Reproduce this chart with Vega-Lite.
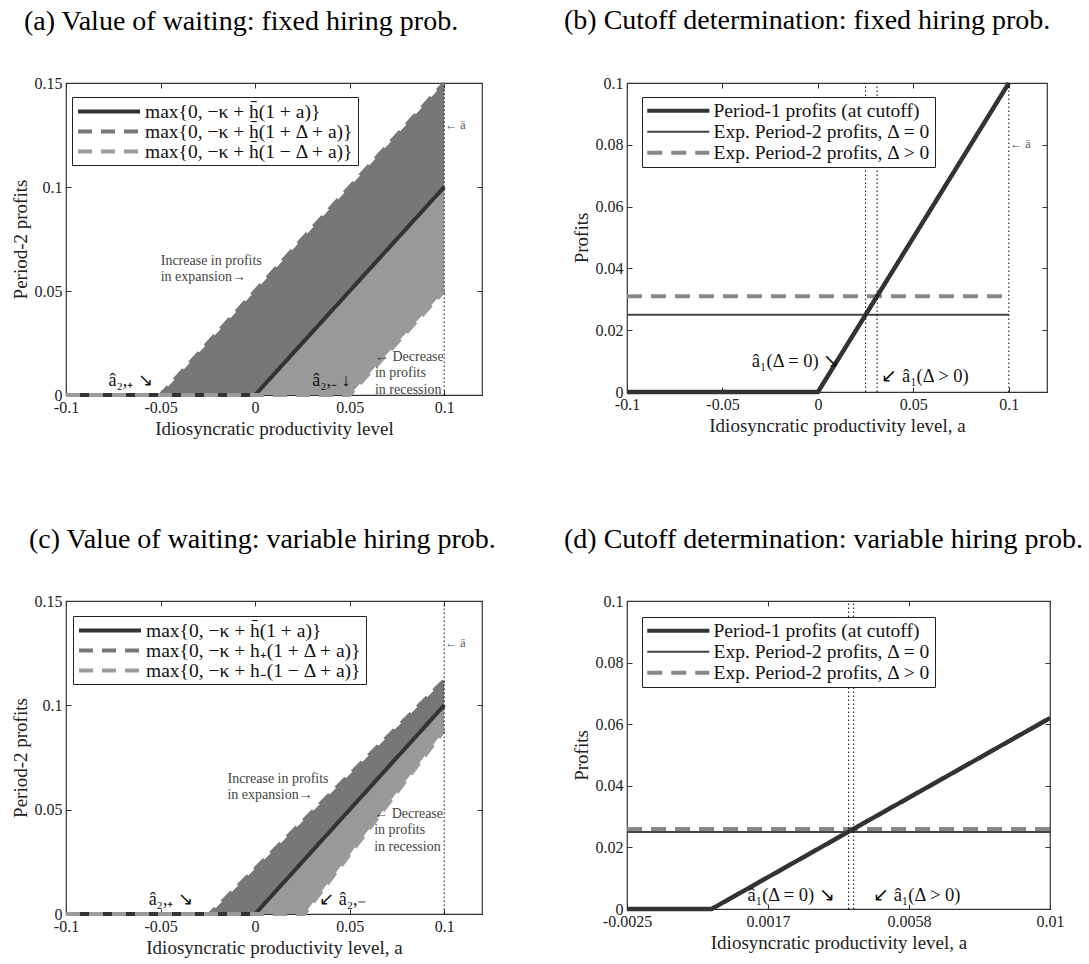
{
  "$schema": "https://vega.github.io/schema/vega-lite/v6.json",
  "background": "white",
  "padding": {"left": 10, "right": 5, "top": 6, "bottom": 5},
  "config": {
    "font": "Liberation Serif",
    "view": {"stroke": "#333333", "strokeWidth": 1.2},
    "axis": {"domain": false, "grid": false, "tickSize": -5, "tickColor": "#333333", "labelFont": "Liberation Serif", "labelFontSize": 16, "labelColor": "#222222", "labelPadding": 9, "labelFlush": false, "labelOverlap": false, "titleFont": "Liberation Serif", "titleFontSize": 19, "titleFontWeight": "normal", "titleColor": "#222222"},
    "legend": {"symbolType": "M-1,0H6.3", "symbolSize": 289, "symbolStrokeWidth": 4, "labelFont": "Liberation Serif", "labelFontSize": 19.5, "labelColor": "#111111", "labelLimit": 500, "strokeColor": "#222222", "fillColor": "white", "padding": 4, "rowPadding": 0, "labelOffset": 48},
    "title": {"font": "Liberation Serif", "fontSize": 28, "fontWeight": "normal", "color": "black", "anchor": "start", "frame": "group", "offset": 39}
  },
  "resolve": {"scale": {"color": "independent", "strokeDash": "independent"}},
  "spacing": 86,
  "vconcat": [
    {
      "spacing": 145,
      "bounds": "flush",
      "resolve": {"scale": {"color": "independent", "strokeDash": "independent"}},
      "hconcat": [
        {
          "width": 416, "height": 312,
          "title": {"text": "(a) Value of waiting: fixed hiring prob.", "dx": -42},
          "encoding": {
            "x": {"field": "a", "type": "quantitative", "scale": {"domain": [-0.1, 0.12], "nice": false, "zero": false}, "axis": {"values": [-0.1, -0.05, 0, 0.05, 0.1], "labelExpr": "'' + datum.value", "title": "Idiosyncratic productivity level"}},
            "y": {"field": "v", "type": "quantitative", "scale": {"domain": [0, 0.15], "nice": false}, "axis": {"values": [0, 0.05, 0.1, 0.15], "labelExpr": "'' + datum.value", "title": "Period-2 profits"}}
          },
          "resolve": {"axis": {"x": "independent", "y": "independent"}},
          "layer": [
            {
              "layer": [
                {"data": {"values": [{"a": -0.05, "v": 0, "v2": 0}, {"a": 0, "v": 0.05, "v2": 0}, {"a": 0.1, "v": 0.15, "v2": 0.1}]}, "mark": {"type": "area", "color": "#777777", "opacity": 1}, "encoding": {"y2": {"field": "v2"}}},
                {"data": {"values": [{"a": 0, "v": 0, "v2": 0}, {"a": 0.05, "v": 0.05, "v2": 0}, {"a": 0.1, "v": 0.1, "v2": 0.05}]}, "mark": {"type": "area", "color": "#999999", "opacity": 1}, "encoding": {"y2": {"field": "v2"}}},
                {
                  "encoding": {
                    "color": {"field": "s", "type": "nominal", "scale": {"domain": ["max{0, −κ + h̄(1 + a)}", "max{0, −κ + h̄(1 + Δ + a)}", "max{0, −κ + h̄(1 − Δ + a)}"], "range": ["#333333", "#777777", "#9b9b9b"]}, "legend": {"title": null, "orient": "none", "legendX": 6, "legendY": 14}},
                    "strokeDash": {"field": "s", "type": "nominal", "scale": {"domain": ["max{0, −κ + h̄(1 + a)}", "max{0, −κ + h̄(1 + Δ + a)}", "max{0, −κ + h̄(1 − Δ + a)}"], "range": [[1, 0], [14, 9], [14, 9]]}, "legend": {"title": null, "orient": "none", "legendX": 6, "legendY": 14}}
                  },
                  "layer": [
                    {"data": {"values": [{"s": "max{0, −κ + h̄(1 + a)}", "a": -0.1, "v": 0}, {"s": "max{0, −κ + h̄(1 + a)}", "a": 0, "v": 0}, {"s": "max{0, −κ + h̄(1 + a)}", "a": 0.1, "v": 0.1}]}, "mark": {"type": "line", "strokeWidth": 4}},
                    {"data": {"values": [{"s": "max{0, −κ + h̄(1 + Δ + a)}", "a": -0.1, "v": 0}, {"s": "max{0, −κ + h̄(1 + Δ + a)}", "a": -0.05, "v": 0}, {"s": "max{0, −κ + h̄(1 + Δ + a)}", "a": 0.1, "v": 0.15}]}, "mark": {"type": "line", "strokeWidth": 4}},
                    {"data": {"values": [{"s": "max{0, −κ + h̄(1 − Δ + a)}", "a": -0.1, "v": 0}, {"s": "max{0, −κ + h̄(1 − Δ + a)}", "a": 0.05, "v": 0}, {"s": "max{0, −κ + h̄(1 − Δ + a)}", "a": 0.1, "v": 0.05}]}, "mark": {"type": "line", "strokeWidth": 4}}
                  ]
                },
                {"data": {"values": [{"a": -0.0499, "v": 0.068, "t": "Increase in profits\nin expansion→"}, {"a": 0.0634, "v": 0.0218, "t": "← Decrease\nin profits\nin recession"}]}, "mark": {"type": "text", "align": "left", "baseline": "top", "fontSize": 14, "color": "#444444", "lineBreak": "\n", "lineHeight": 16.5}, "encoding": {"text": {"field": "t"}}},
                {"data": {"values": [{"a": 0.1005, "v": 0.130, "t": "← ā"}]}, "mark": {"type": "text", "align": "left", "baseline": "middle", "fontSize": 12, "color": "#555555"}, "encoding": {"text": {"field": "t"}}},
                {"data": {"values": [{"a": -0.0775, "v": 0.0069, "t": "â₂,₊   ↘"}, {"a": 0.0302, "v": 0.0069, "t": "â₂,₋  ↓"}]}, "mark": {"type": "text", "align": "left", "baseline": "middle", "fontSize": 18, "color": "#111111"}, "encoding": {"text": {"field": "t"}}}
              ]
            },
            {"data": {"values": [{"a": 0.1, "v": 0, "v2": 0.15}]}, "mark": {"type": "rule", "color": "black", "strokeWidth": 1, "strokeDash": [1.5, 2.5]},
             "encoding": {
               "x": {"field": "a", "type": "quantitative", "scale": {"domain": [-0.1, 0.12], "nice": false, "zero": false}, "axis": {"orient": "top", "values": [-0.1, -0.05, 0, 0.05, 0.1], "labels": false, "title": null}},
               "y": {"field": "v", "type": "quantitative", "scale": {"domain": [0, 0.15], "nice": false}, "axis": {"orient": "right", "values": [0, 0.05, 0.1, 0.15], "labels": false, "title": null}},
               "y2": {"field": "v2"}}}
          ]
        },
        {
          "width": 420, "height": 309,
          "title": {"text": "(b) Cutoff determination: fixed hiring prob.", "dx": -63},
          "encoding": {
            "x": {"field": "a", "type": "quantitative", "scale": {"domain": [-0.1, 0.12], "nice": false, "zero": false}, "axis": {"values": [-0.1, -0.05, 0, 0.05, 0.1], "labelExpr": "'' + datum.value", "title": "Idiosyncratic productivity level, a"}},
            "y": {"field": "v", "type": "quantitative", "scale": {"domain": [0, 0.1], "nice": false}, "axis": {"values": [0, 0.02, 0.04, 0.06, 0.08, 0.1], "labelExpr": "'' + datum.value", "title": "Profits"}}
          },
          "resolve": {"axis": {"x": "independent", "y": "independent"}},
          "layer": [
            {
              "layer": [
                {
                  "encoding": {
                    "color": {"field": "s", "type": "nominal", "scale": {"domain": ["Period-1 profits (at cutoff)", "Exp. Period-2 profits, Δ = 0", "Exp. Period-2 profits, Δ > 0"], "range": ["#333333", "#444444", "#888888"]}, "legend": {"title": null, "orient": "none", "legendX": 15, "legendY": 14, "encode": {"symbols": {"update": {"strokeWidth": {"signal": "datum.value === 'Exp. Period-2 profits, Δ = 0' ? 2 : 4"}}}}}},
                    "strokeDash": {"field": "s", "type": "nominal", "scale": {"domain": ["Period-1 profits (at cutoff)", "Exp. Period-2 profits, Δ = 0", "Exp. Period-2 profits, Δ > 0"], "range": [[1, 0], [1, 0], [15, 9]]}, "legend": {"title": null, "orient": "none", "legendX": 15, "legendY": 14, "encode": {"symbols": {"update": {"strokeWidth": {"signal": "datum.value === 'Exp. Period-2 profits, Δ = 0' ? 2 : 4"}}}}}}
                  },
                  "layer": [
                    {"data": {"values": [{"s": "Exp. Period-2 profits, Δ > 0", "a": -0.1, "v": 0.031}, {"s": "Exp. Period-2 profits, Δ > 0", "a": 0.1, "v": 0.031}]}, "mark": {"type": "line", "strokeWidth": 4}},
                    {"data": {"values": [{"s": "Exp. Period-2 profits, Δ = 0", "a": -0.1, "v": 0.025}, {"s": "Exp. Period-2 profits, Δ = 0", "a": 0.1, "v": 0.025}]}, "mark": {"type": "line", "strokeWidth": 2}},
                    {"data": {"values": [{"s": "Period-1 profits (at cutoff)", "a": -0.1, "v": 0}, {"s": "Period-1 profits (at cutoff)", "a": 0, "v": 0}, {"s": "Period-1 profits (at cutoff)", "a": 0.1, "v": 0.1}]}, "mark": {"type": "line", "strokeWidth": 4.5}}
                  ]
                },
                {"data": {"values": [{"a": 0.1007, "v": 0.0803, "t": "← ā"}]}, "mark": {"type": "text", "align": "left", "baseline": "middle", "fontSize": 12, "color": "#555555"}, "encoding": {"text": {"field": "t"}}},
                {"data": {"values": [{"a": -0.0346, "v": 0.0100, "t": "â₁(Δ = 0)  ↘"}, {"a": 0.0332, "v": 0.0052, "t": "↙  â₁(Δ > 0)"}]}, "mark": {"type": "text", "align": "left", "baseline": "middle", "fontSize": 18.5, "color": "#111111"}, "encoding": {"text": {"field": "t"}}}
              ]
            },
            {"data": {"values": [{"a": 0.025, "v": 0, "v2": 0.1}, {"a": 0.031, "v": 0, "v2": 0.1}, {"a": 0.1, "v": 0, "v2": 0.1}]}, "mark": {"type": "rule", "color": "black", "strokeWidth": 1, "strokeDash": [1.5, 2.5]},
             "encoding": {
               "x": {"field": "a", "type": "quantitative", "scale": {"domain": [-0.1, 0.12], "nice": false, "zero": false}, "axis": {"orient": "top", "values": [-0.1, -0.05, 0, 0.05, 0.1], "labels": false, "title": null}},
               "y": {"field": "v", "type": "quantitative", "scale": {"domain": [0, 0.1], "nice": false}, "axis": {"orient": "right", "values": [0, 0.02, 0.04, 0.06, 0.08, 0.1], "labels": false, "title": null}},
               "y2": {"field": "v2"}}}
          ]
        }
      ]
    },
    {
      "spacing": 145,
      "bounds": "flush",
      "resolve": {"scale": {"color": "independent", "strokeDash": "independent"}},
      "hconcat": [
        {
          "width": 416, "height": 313,
          "title": {"text": "(c) Value of waiting: variable hiring prob.", "dx": -37},
          "encoding": {
            "x": {"field": "a", "type": "quantitative", "scale": {"domain": [-0.1, 0.12], "nice": false, "zero": false}, "axis": {"values": [-0.1, -0.05, 0, 0.05, 0.1], "labelExpr": "'' + datum.value", "title": "Idiosyncratic productivity level, a"}},
            "y": {"field": "v", "type": "quantitative", "scale": {"domain": [0, 0.15], "nice": false}, "axis": {"values": [0, 0.05, 0.1, 0.15], "labelExpr": "'' + datum.value", "title": "Period-2 profits"}}
          },
          "resolve": {"axis": {"x": "independent", "y": "independent"}},
          "layer": [
            {
              "layer": [
                {"data": {"values": [{"a": -0.024, "v": 0, "v2": 0}, {"a": 0, "v": 0.0217, "v2": 0}, {"a": 0.1, "v": 0.112, "v2": 0.1}]}, "mark": {"type": "area", "color": "#777777", "opacity": 1}, "encoding": {"y2": {"field": "v2"}}},
                {"data": {"values": [{"a": 0, "v": 0, "v2": 0}, {"a": 0.026, "v": 0.026, "v2": 0}, {"a": 0.1, "v": 0.1, "v2": 0.088}]}, "mark": {"type": "area", "color": "#999999", "opacity": 1}, "encoding": {"y2": {"field": "v2"}}},
                {
                  "encoding": {
                    "color": {"field": "s", "type": "nominal", "scale": {"domain": ["max{0, −κ + h̄(1 + a)}", "max{0, −κ + h₊(1 + Δ + a)}", "max{0, −κ + h₋(1 − Δ + a)}"], "range": ["#333333", "#777777", "#9b9b9b"]}, "legend": {"title": null, "orient": "none", "legendX": 7, "legendY": 15}},
                    "strokeDash": {"field": "s", "type": "nominal", "scale": {"domain": ["max{0, −κ + h̄(1 + a)}", "max{0, −κ + h₊(1 + Δ + a)}", "max{0, −κ + h₋(1 − Δ + a)}"], "range": [[1, 0], [14, 9], [14, 9]]}, "legend": {"title": null, "orient": "none", "legendX": 7, "legendY": 15}}
                  },
                  "layer": [
                    {"data": {"values": [{"s": "max{0, −κ + h̄(1 + a)}", "a": -0.1, "v": 0}, {"s": "max{0, −κ + h̄(1 + a)}", "a": 0, "v": 0}, {"s": "max{0, −κ + h̄(1 + a)}", "a": 0.1, "v": 0.1}]}, "mark": {"type": "line", "strokeWidth": 4}},
                    {"data": {"values": [{"s": "max{0, −κ + h₊(1 + Δ + a)}", "a": -0.1, "v": 0}, {"s": "max{0, −κ + h₊(1 + Δ + a)}", "a": -0.024, "v": 0}, {"s": "max{0, −κ + h₊(1 + Δ + a)}", "a": 0.1, "v": 0.112}]}, "mark": {"type": "line", "strokeWidth": 4}},
                    {"data": {"values": [{"s": "max{0, −κ + h₋(1 − Δ + a)}", "a": -0.1, "v": 0}, {"s": "max{0, −κ + h₋(1 − Δ + a)}", "a": 0.026, "v": 0}, {"s": "max{0, −κ + h₋(1 − Δ + a)}", "a": 0.1, "v": 0.088}]}, "mark": {"type": "line", "strokeWidth": 4}}
                  ]
                },
                {"data": {"values": [{"a": -0.0146, "v": 0.0682, "t": "Increase in profits\nin expansion→"}, {"a": 0.063, "v": 0.0514, "t": "← Decrease\nin profits\nin recession"}]}, "mark": {"type": "text", "align": "left", "baseline": "top", "fontSize": 14, "color": "#444444", "lineBreak": "\n", "lineHeight": 16.5}, "encoding": {"text": {"field": "t"}}},
                {"data": {"values": [{"a": 0.1005, "v": 0.130, "t": "← ā"}]}, "mark": {"type": "text", "align": "left", "baseline": "middle", "fontSize": 12, "color": "#555555"}, "encoding": {"text": {"field": "t"}}},
                {"data": {"values": [{"a": -0.0563, "v": 0.0069, "t": "â₂,₊   ↘"}, {"a": 0.0339, "v": 0.0069, "t": "↙  â₂,₋"}]}, "mark": {"type": "text", "align": "left", "baseline": "middle", "fontSize": 18, "color": "#111111"}, "encoding": {"text": {"field": "t"}}}
              ]
            },
            {"data": {"values": [{"a": 0.1, "v": 0, "v2": 0.15}]}, "mark": {"type": "rule", "color": "black", "strokeWidth": 1, "strokeDash": [1.5, 2.5]},
             "encoding": {
               "x": {"field": "a", "type": "quantitative", "scale": {"domain": [-0.1, 0.12], "nice": false, "zero": false}, "axis": {"orient": "top", "values": [-0.1, -0.05, 0, 0.05, 0.1], "labels": false, "title": null}},
               "y": {"field": "v", "type": "quantitative", "scale": {"domain": [0, 0.15], "nice": false}, "axis": {"orient": "right", "values": [0, 0.05, 0.1, 0.15], "labels": false, "title": null}},
               "y2": {"field": "v2"}}}
          ]
        },
        {
          "width": 423, "height": 308,
          "title": {"text": "(d) Cutoff determination: variable hiring prob.", "dx": -63},
          "encoding": {
            "x": {"field": "a", "type": "quantitative", "scale": {"domain": [-0.0025, 0.01], "nice": false, "zero": false}, "axis": {"values": [-0.0025, 0.0016667, 0.0058333, 0.01], "labelExpr": "datum.value < -0.002 ? '-0.0025' : datum.value < 0.003 ? '0.0017' : datum.value < 0.008 ? '0.0058' : '0.01'", "title": "Idiosyncratic productivity level, a"}},
            "y": {"field": "v", "type": "quantitative", "scale": {"domain": [0, 0.1], "nice": false}, "axis": {"values": [0, 0.02, 0.04, 0.06, 0.08, 0.1], "labelExpr": "'' + datum.value", "title": "Profits"}}
          },
          "resolve": {"axis": {"x": "independent", "y": "independent"}},
          "layer": [
            {
              "layer": [
                {
                  "encoding": {
                    "color": {"field": "s", "type": "nominal", "scale": {"domain": ["Period-1 profits (at cutoff)", "Exp. Period-2 profits, Δ = 0", "Exp. Period-2 profits, Δ > 0"], "range": ["#333333", "#444444", "#888888"]}, "legend": {"title": null, "orient": "none", "legendX": 15, "legendY": 16, "encode": {"symbols": {"update": {"strokeWidth": {"signal": "datum.value === 'Exp. Period-2 profits, Δ = 0' ? 2 : 4"}}}}}},
                    "strokeDash": {"field": "s", "type": "nominal", "scale": {"domain": ["Period-1 profits (at cutoff)", "Exp. Period-2 profits, Δ = 0", "Exp. Period-2 profits, Δ > 0"], "range": [[1, 0], [1, 0], [15, 9]]}, "legend": {"title": null, "orient": "none", "legendX": 15, "legendY": 16, "encode": {"symbols": {"update": {"strokeWidth": {"signal": "datum.value === 'Exp. Period-2 profits, Δ = 0' ? 2 : 4"}}}}}}
                  },
                  "layer": [
                    {"data": {"values": [{"s": "Exp. Period-2 profits, Δ > 0", "a": -0.0025, "v": 0.026}, {"s": "Exp. Period-2 profits, Δ > 0", "a": 0.01, "v": 0.026}]}, "mark": {"type": "line", "strokeWidth": 4}},
                    {"data": {"values": [{"s": "Exp. Period-2 profits, Δ = 0", "a": -0.0025, "v": 0.025}, {"s": "Exp. Period-2 profits, Δ = 0", "a": 0.01, "v": 0.025}]}, "mark": {"type": "line", "strokeWidth": 2}},
                    {"data": {"values": [{"s": "Period-1 profits (at cutoff)", "a": -0.0025, "v": 0}, {"s": "Period-1 profits (at cutoff)", "a": 0, "v": 0}, {"s": "Period-1 profits (at cutoff)", "a": 0.01, "v": 0.062}]}, "mark": {"type": "line", "strokeWidth": 4.5}}
                  ]
                },
                {"data": {"values": [{"a": 0.00106, "v": 0.0046, "t": "â₁(Δ = 0)  ↘"}, {"a": 0.00477, "v": 0.0046, "t": "↙  â₁(Δ > 0)"}]}, "mark": {"type": "text", "align": "left", "baseline": "middle", "fontSize": 18.5, "color": "#111111"}, "encoding": {"text": {"field": "t"}}}
              ]
            },
            {"data": {"values": [{"a": 0.00405, "v": 0, "v2": 0.1}, {"a": 0.0042, "v": 0, "v2": 0.1}]}, "mark": {"type": "rule", "color": "black", "strokeWidth": 1, "strokeDash": [1.5, 2.5]},
             "encoding": {
               "x": {"field": "a", "type": "quantitative", "scale": {"domain": [-0.0025, 0.01], "nice": false, "zero": false}, "axis": {"orient": "top", "values": [-0.0025, 0.0016667, 0.0058333, 0.01], "labels": false, "title": null}},
               "y": {"field": "v", "type": "quantitative", "scale": {"domain": [0, 0.1], "nice": false}, "axis": {"orient": "right", "values": [0, 0.02, 0.04, 0.06, 0.08, 0.1], "labels": false, "title": null}},
               "y2": {"field": "v2"}}}
          ]
        }
      ]
    }
  ]
}
